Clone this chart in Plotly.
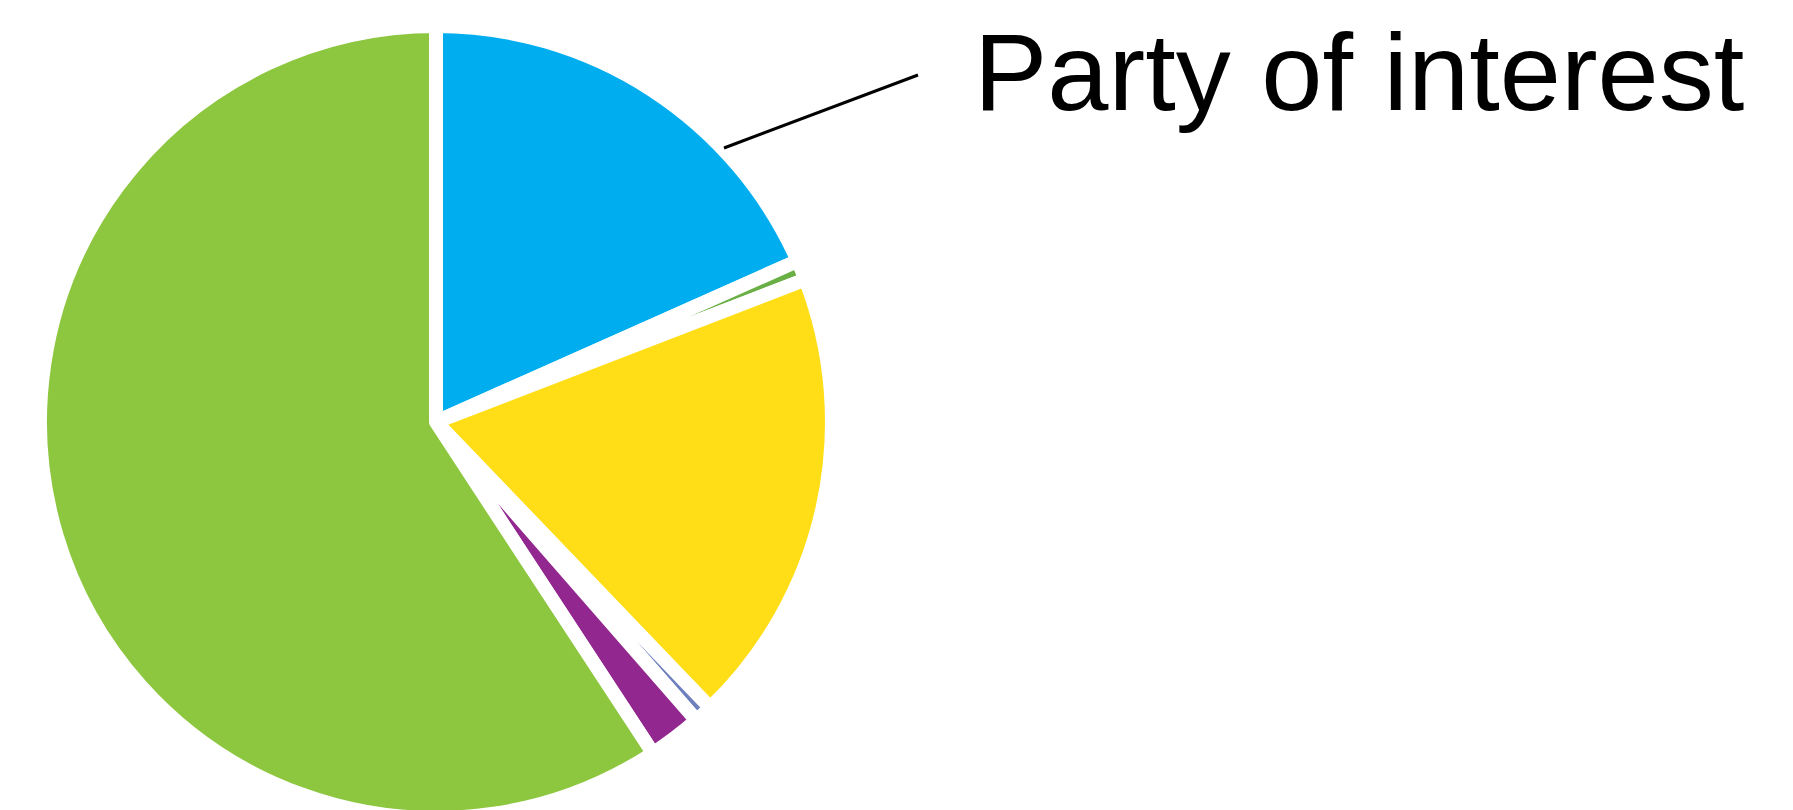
import plotly.graph_objects as go

W, H = 1793, 810

# slice data (clockwise from 12 o'clock), percent shares
labels = ["Party of interest", "Minor A", "Party C", "Minor B", "Party D", "Party E"]
values = [18.33, 0.81, 18.69, 0.75, 2.19, 59.23]
colors = ["#00AEEF", "#6AAF45", "#FFDE17", "#6E7FBE", "#92278F", "#8DC63F"]

annotation_text = "Party of interest"

# pie placement in pixels
cx, cy, r = 428, 414, 396

fig = go.Figure(go.Pie(
    labels=labels, values=values, sort=False, direction="clockwise", rotation=0,
    marker=dict(colors=colors, line=dict(color="white", width=14)),
    textinfo="none", hoverinfo="skip", showlegend=False,
    domain=dict(x=[(cx - r) / W, (cx + r) / W], y=[1 - (cy + r) / H, 1 - (cy - r) / H]),
))

# leader line
x0, y0, x1, y1 = 716, 140, 910, 67
fig.add_shape(type="line", xref="paper", yref="paper",
              x0=x0 / W, y0=1 - y0 / H, x1=x1 / W, y1=1 - y1 / H,
              line=dict(color="black", width=3))

fs = 110
fig.add_annotation(text=annotation_text, xref="paper", yref="paper",
                   x=964 / W, y=1 - 63.5 / H, xanchor="left", yanchor="middle",
                   showarrow=False, font=dict(family="Liberation Sans, Arial", size=fs, color="black"))

fig.update_layout(width=W, height=H, margin=dict(l=0, r=0, t=0, b=0),
                  paper_bgcolor="white", plot_bgcolor="white")
fig.write_html("out.html")
